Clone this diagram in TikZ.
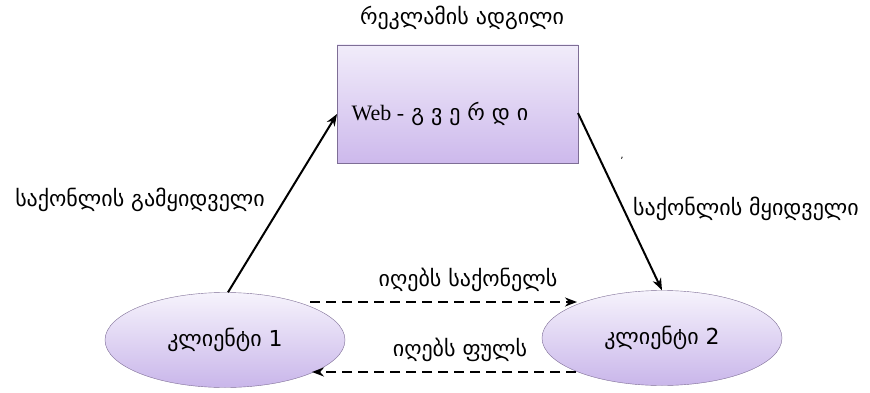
\documentclass[tikz,border=0pt]{standalone}
\usepackage{fontspec}
\setmainfont{DejaVu Sans}
\newfontfamily\serifweb{Liberation Serif}
\usetikzlibrary{shapes.geometric,arrows.meta}
\definecolor{boxtop}{HTML}{F1ECFA}
\definecolor{boxbot}{HTML}{CDB9EC}
\definecolor{elltop}{HTML}{F6F3FC}
\definecolor{ellbot}{HTML}{C9B6EA}
\definecolor{edge}{HTML}{7E6E96}
\tikzset{
  lbl/.style={font=\fontsize{22}{24}\selectfont, inner sep=0pt},
  pagebox/.style={draw=edge, top color=boxtop, bottom color=boxbot, minimum width=241pt, minimum height=118pt, inner sep=0pt},
  client/.style={ellipse, draw=edge, top color=elltop, bottom color=ellbot, minimum width=240pt, minimum height=95pt, inner sep=0pt, font=\fontsize{22}{24}\selectfont},
  solidarrow/.style={line width=2pt, -{Stealth[length=12pt,width=9pt]}},
  dasharrow/.style={line width=2pt, dash pattern=on 10pt off 6pt, -{Stealth[length=12pt,width=9pt]}}
}
\begin{document}
\begin{tikzpicture}[x=1pt,y=-1pt]
\useasboundingbox[fill=white] (0,0) rectangle (870,393);
\node[pagebox] (web) at (457.5,104) {};
\node[font=\fontsize{22}{24}\selectfont, inner sep=0pt] (webtxt) at (440,114) {{\serifweb Web -} გ ვ ე რ დ ი};
\node[lbl] (title) at (462,18) {რეკლამის ადგილი};
\node[client] (c1) at (225,340) {კლიენტი 1};
\node[client] (c2) at (662,338) {კლიენტი 2};
\node[lbl] (sell) at (140,200) {საქონლის გამყიდველი};
\node[lbl] (buy) at (746,209) {საქონლის მყიდველი};
\node[lbl] (goods) at (468,280) {იღებს საქონელს};
\node[lbl] (money) at (460,350) {იღებს ფულს};
\node[font=\fontsize{10}{10}\selectfont, inner sep=0pt] (tick) at (622,161) {'};
\coordinate (wl) at (337,114);
\coordinate (wr) at (578,113);
\draw[solidarrow] (c1.north) ++(3,0) coordinate (s1) -- (wl);
\draw[solidarrow] (wr) -- (c2.north);
\coordinate (g1) at (310,302);
\coordinate (g2) at (577,302);
\coordinate (m1) at (576,372);
\coordinate (m2) at (312,372);
\draw[dasharrow] (g1) -- (g2);
\draw[dasharrow] (m1) -- (m2);
\end{tikzpicture}
\end{document}
